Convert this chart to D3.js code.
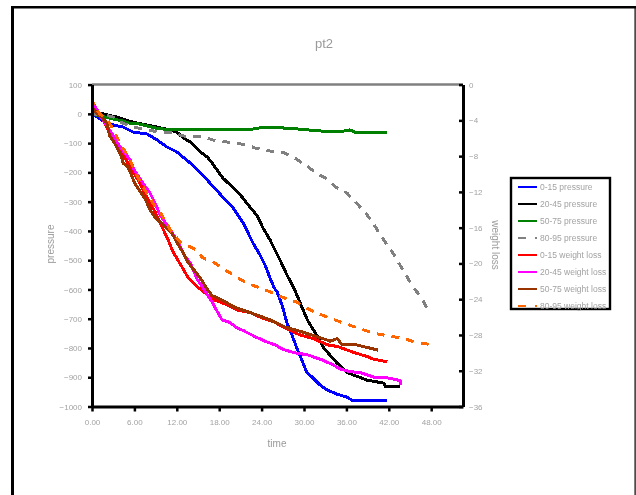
<!DOCTYPE html>
<html>
<head>
<meta charset="utf-8">
<script src="https://cdn.jsdelivr.net/npm/d3@7"></script>
<style>
  html, body { margin: 0; padding: 0; background: #fff; }
  svg { display: block; font-family: "Liberation Sans", Arial, sans-serif; }
</style>
</head>
<body>
<svg id="chart" width="636" height="495"></svg>
<script>
// ---- chart text ----
const chartTitle = "pt2";
const xTitle = "time";
const leftTitle = "pressure";
const rightTitle = "weight loss";

// ---- axis ticks ----
const xTicks = [0, 6, 12, 18, 24, 30, 36, 42, 48];
const pressureTicks = [100, 0, -100, -200, -300, -400, -500, -600, -700, -800, -900, -1000];
const weightTicks = [0, -4, -8, -12, -16, -20, -24, -28, -32, -36];

// ---- series names ----
const seriesNames = [
  "0-15 pressure", "20-45 pressure", "50-75 pressure", "80-95 pressure",
  "0-15 weight loss", "20-45 weight loss", "50-75 weight loss", "80-95 weight loss"
];

// ---- pressure series (left axis) ----
const time015P = [0, 2.27, 4.39, 5.8, 7.8, 9.2, 10.6, 12.0, 13.9, 16.3, 18.5, 20.0, 21.4, 22.8, 23.8, 24.5, 25.2, 25.8, 26.2, 26.9, 27.6, 28.3, 29.0, 29.7, 30.4, 31.3, 32.3, 33.3, 34.7, 36.1, 36.8, 41.8];
const press015 = [0, -34, -45, -62, -69, -89, -113, -130, -168, -226, -284, -322, -373, -442, -483, -517, -561, -595, -609, -654, -715, -756, -801, -842, -883, -903, -927, -944, -958, -968, -979, -979];

const time2045P = [0, 1.56, 3.5, 5.1, 7.1, 9.2, 11.0, 12.0, 12.9, 13.9, 15.3, 16.3, 17.0, 17.7, 18.5, 20.0, 21.0, 21.9, 23.4, 24.2, 25.2, 25.9, 26.6, 27.6, 28.5, 29.2, 29.7, 30.5, 31.6, 32.0, 32.7, 33.3, 34.7, 36.1, 37.0, 37.9, 38.9, 41.3, 41.5, 43.6];
const press2045 = [0, 0, -11, -24, -35, -45, -55, -62, -82, -96, -130, -147, -168, -192, -219, -253, -277, -305, -349, -390, -431, -465, -499, -551, -592, -630, -660, -705, -749, -763, -797, -814, -852, -883, -893, -900, -910, -920, -931, -931];

const time5075P = [0, 1.84, 4.25, 5.1, 6.8, 8.9, 11.0, 14.7, 18.4, 20.8, 21.9, 24.5, 26.9, 29.3, 32.0, 34.8, 36.5, 37.4, 39.8, 41.8];
const press5075 = [0, -11, -24, -31, -35, -48, -55, -55, -55, -52, -55, -45, -48, -52, -58, -62, -55, -65, -65, -65];

const time8095P = [0, 1.84, 3.0, 4.0, 5.7, 7.5, 9.3, 11.3, 13.6, 16.0, 17.0, 19.1, 21.9, 23.1, 25.2, 27.3, 28.9, 30.4, 31.7, 33.3, 34.5, 36.1, 37.4, 38.5, 39.8, 40.6, 41.8, 42.6, 43.6, 44.6, 45.5, 46.6, 47.4];
const press8095 = [0, -4, -11, -28, -45, -52, -62, -65, -79, -79, -89, -96, -106, -117, -127, -134, -154, -178, -202, -223, -250, -271, -305, -332, -373, -407, -448, -476, -517, -558, -595, -626, -664];

// ---- weight loss series (right axis) ----
const time015W = [0, 1.56, 2.27, 2.97, 3.68, 4.39, 5.66, 6.51, 7.22, 7.93, 8.92, 9.91, 10.76, 11.47, 12.74, 13.6, 14.9, 16.0, 17.4, 19.1, 20.5, 22.4, 23.8, 25.9, 28.0, 29.5, 31.3, 33.3, 34.8, 37.2, 38.9, 39.8, 41.8];
const loss015 = [-2.6, -3.95, -5.06, -5.85, -7.08, -7.86, -9.54, -10.65, -11.77, -12.89, -14.23, -15.91, -17.36, -18.7, -20.4, -21.6, -22.6, -23.3, -24.1, -24.6, -25.2, -25.5, -26.0, -26.6, -27.5, -28.0, -28.4, -29.1, -29.3, -30.0, -30.4, -30.7, -31.0];

const time2045W = [0, 0.42, 1.13, 2.27, 4.0, 5.38, 5.95, 7.36, 8.2, 9.06, 9.63, 11.04, 12.0, 12.7, 13.2, 13.9, 14.9, 15.6, 16.3, 17.0, 17.6, 18.4, 19.5, 20.5, 21.4, 23.1, 24.8, 25.9, 27.0, 28.7, 30.4, 32.6, 34.0, 35.1, 36.5, 37.9, 39.8, 41.8, 43.6, 43.7];
const loss2045 = [-1.95, -2.4, -3.4, -4.8, -7.0, -8.4, -9.5, -11.2, -12.1, -13.5, -14.6, -16.2, -17.4, -18.5, -19.3, -19.9, -21.8, -22.6, -23.5, -24.3, -25.2, -26.3, -26.6, -27.2, -27.5, -28.2, -28.8, -29.1, -29.6, -30.0, -30.2, -30.8, -31.3, -31.8, -32.1, -32.2, -32.7, -32.8, -33.1, -33.6];

const time5075W = [0, 0.7, 1.4, 2.1, 2.5, 3.3, 4.1, 4.4, 5.1, 6.1, 7.6, 8.2, 8.9, 10.6, 11.3, 12.2, 12.9, 13.6, 14.9, 15.3, 16.4, 17.0, 18.4, 20.2, 22.4, 25.2, 27.3, 29.5, 32.3, 33.7, 34.7, 35.4, 37.4, 40.5];
const loss5075 = [-2.5, -3.2, -3.7, -4.3, -5.7, -6.7, -7.9, -8.8, -9.2, -11.1, -12.9, -14.0, -14.8, -16.1, -16.6, -17.9, -18.8, -19.9, -21.2, -21.6, -23.0, -23.6, -24.1, -24.9, -25.5, -26.3, -27.1, -27.6, -28.3, -28.7, -28.4, -29.1, -29.1, -29.7];

const time8095W = [0, 0.28, 1.13, 2.27, 2.83, 3.26, 4.0, 5.0, 5.8, 6.5, 7.5, 8.9, 9.9, 10.6, 11.3, 12.5, 13.6, 14.7, 15.7, 17.3, 18.8, 20.4, 21.9, 23.6, 25.6, 27.3, 28.9, 30.6, 32.3, 34.3, 36.1, 37.9, 39.9, 41.9, 44.2, 45.7, 47.4, 47.9];
const loss8095 = [-1.4, -2.4, -3.3, -4.0, -4.8, -5.4, -6.6, -7.9, -9.2, -10.4, -11.8, -13.6, -14.6, -15.6, -16.5, -17.6, -18.0, -18.5, -19.4, -19.9, -20.7, -21.5, -22.2, -22.7, -23.3, -23.9, -24.3, -25.1, -25.7, -26.3, -26.8, -27.3, -27.8, -28.1, -28.4, -28.8, -29.0, -29.3];

// ---- layout ----
const plot = { left: 92, right: 463, top: 84.6, bottom: 406.5 };
const textGray = "#a2a2a2";

const svg = d3.select("#chart");

// soft text rendering
const defs = svg.append("defs");
defs.append("filter").attr("id", "soft")
  .append("feGaussianBlur").attr("stdDeviation", 0.45);

// outer chart frame
svg.append("rect").attr("x", 11).attr("y", 6).attr("width", 625).attr("height", 2.5).attr("fill", "#000");
svg.append("rect").attr("x", 11).attr("y", 6).attr("width", 3).attr("height", 489).attr("fill", "#000");
svg.append("rect").attr("x", 634.5).attr("y", 6).attr("width", 1.2).attr("height", 489).attr("fill", "#000");

// scales
const x = d3.scaleLinear().domain([0, 52.5]).range([plot.left, plot.right]);
const yP = d3.scaleLinear().domain([-1000, 100]).range([plot.bottom, plot.top]);
const yW = d3.scaleLinear().domain([-36, 0]).range([plot.bottom, plot.top]);

// plot area top border
svg.append("line")
  .attr("x1", plot.left).attr("x2", plot.right)
  .attr("y1", plot.top).attr("y2", plot.top)
  .attr("stroke", "#808080").attr("stroke-width", 2.5);

// series definitions
const series = [
  { name: seriesNames[0], t: time015P, v: press015, y: yP, color: "#0000ff", dash: null },
  { name: seriesNames[1], t: time2045P, v: press2045, y: yP, color: "#000000", dash: null },
  { name: seriesNames[2], t: time5075P, v: press5075, y: yP, color: "#008000", dash: null },
  { name: seriesNames[3], t: time8095P, v: press8095, y: yP, color: "#808080", dash: "8,7" },
  { name: seriesNames[4], t: time015W, v: loss015, y: yW, color: "#ff0000", dash: null },
  { name: seriesNames[5], t: time2045W, v: loss2045, y: yW, color: "#ff00ff", dash: null },
  { name: seriesNames[6], t: time5075W, v: loss5075, y: yW, color: "#993300", dash: null },
  { name: seriesNames[7], t: time8095W, v: loss8095, y: yW, color: "#ff6600", dash: "8,7" }
];

const gLines = svg.append("g");
series.forEach(s => {
  const pts = s.t.map((t, i) => [t, s.v[i]]);
  const line = d3.line().x(d => x(d[0])).y(d => s.y(d[1]));
  gLines.append("path")
    .datum(pts)
    .attr("d", line)
    .attr("fill", "none")
    .attr("stroke", s.color)
    .attr("stroke-width", 3)
    .attr("stroke-linejoin", "round")
    .attr("stroke-dasharray", s.dash)
    .attr("shape-rendering", "crispEdges");
});

// axes
function styleAxis(g) {
  g.select(".domain").attr("stroke", "#000").attr("stroke-width", 3);
  g.selectAll(".tick line").attr("stroke", "#000").attr("stroke-width", 2.5);
  g.selectAll(".tick text")
    .attr("fill", textGray)
    .attr("font-size", 8)
    .attr("font-family", "Liberation Sans, Arial, sans-serif")
    .attr("filter", "url(#soft)");
}

const xAxis = svg.append("g")
  .attr("transform", `translate(0,${plot.bottom})`)
  .call(d3.axisBottom(x).tickValues(xTicks).tickFormat(d3.format(".2f")).tickSizeInner(5).tickSizeOuter(0).tickPadding(8));
styleAxis(xAxis);

const leftAxis = svg.append("g")
  .attr("transform", `translate(${plot.left},0)`)
  .call(d3.axisLeft(yP).tickValues(pressureTicks).tickFormat(d3.format("d")).tickSizeInner(4).tickSizeOuter(0).tickPadding(6));
styleAxis(leftAxis);

const rightAxis = svg.append("g")
  .attr("transform", `translate(${plot.right},0)`)
  .call(d3.axisRight(yW).tickValues(weightTicks).tickFormat(d3.format("d")).tickSizeInner(-4).tickSizeOuter(0).tickPadding(6));
styleAxis(rightAxis);

// titles
const titleStyle = sel => sel
  .attr("fill", "#9a9a9a")
  .attr("font-family", "Liberation Sans, Arial, sans-serif")
  .attr("text-anchor", "middle")
  .attr("filter", "url(#soft)");

svg.append("text").text(chartTitle)
  .attr("x", 324).attr("y", 48).attr("font-size", 13).call(titleStyle);

svg.append("text").text(xTitle)
  .attr("x", 277).attr("y", 447).attr("font-size", 10).call(titleStyle);

svg.append("text").text(leftTitle)
  .attr("transform", "translate(54,244) rotate(-90)")
  .attr("font-size", 10).call(titleStyle);

svg.append("text").text(rightTitle)
  .attr("transform", "translate(492,245) rotate(90)")
  .attr("font-size", 10).call(titleStyle);

// legend
const legend = svg.append("g");
legend.append("rect")
  .attr("x", 511).attr("y", 178).attr("width", 99).attr("height", 131)
  .attr("fill", "#fff").attr("stroke", "#000").attr("stroke-width", 2.4);

const legendRow = d3.scaleLinear().domain([0, 1]).range([187, 204]);
series.forEach((s, i) => {
  const cy = legendRow(i);
  legend.append("line")
    .attr("x1", 518).attr("x2", 537).attr("y1", cy).attr("y2", cy)
    .attr("stroke", s.color).attr("stroke-width", 2.4)
    .attr("stroke-dasharray", s.dash ? "8,9" : null)
    .attr("shape-rendering", "crispEdges");
  legend.append("text").text(s.name)
    .attr("x", 540).attr("y", cy + 3)
    .attr("font-size", 8.5)
    .attr("fill", textGray)
    .attr("font-family", "Liberation Sans, Arial, sans-serif")
    .attr("filter", "url(#soft)");
});
</script>
</body>
</html>
